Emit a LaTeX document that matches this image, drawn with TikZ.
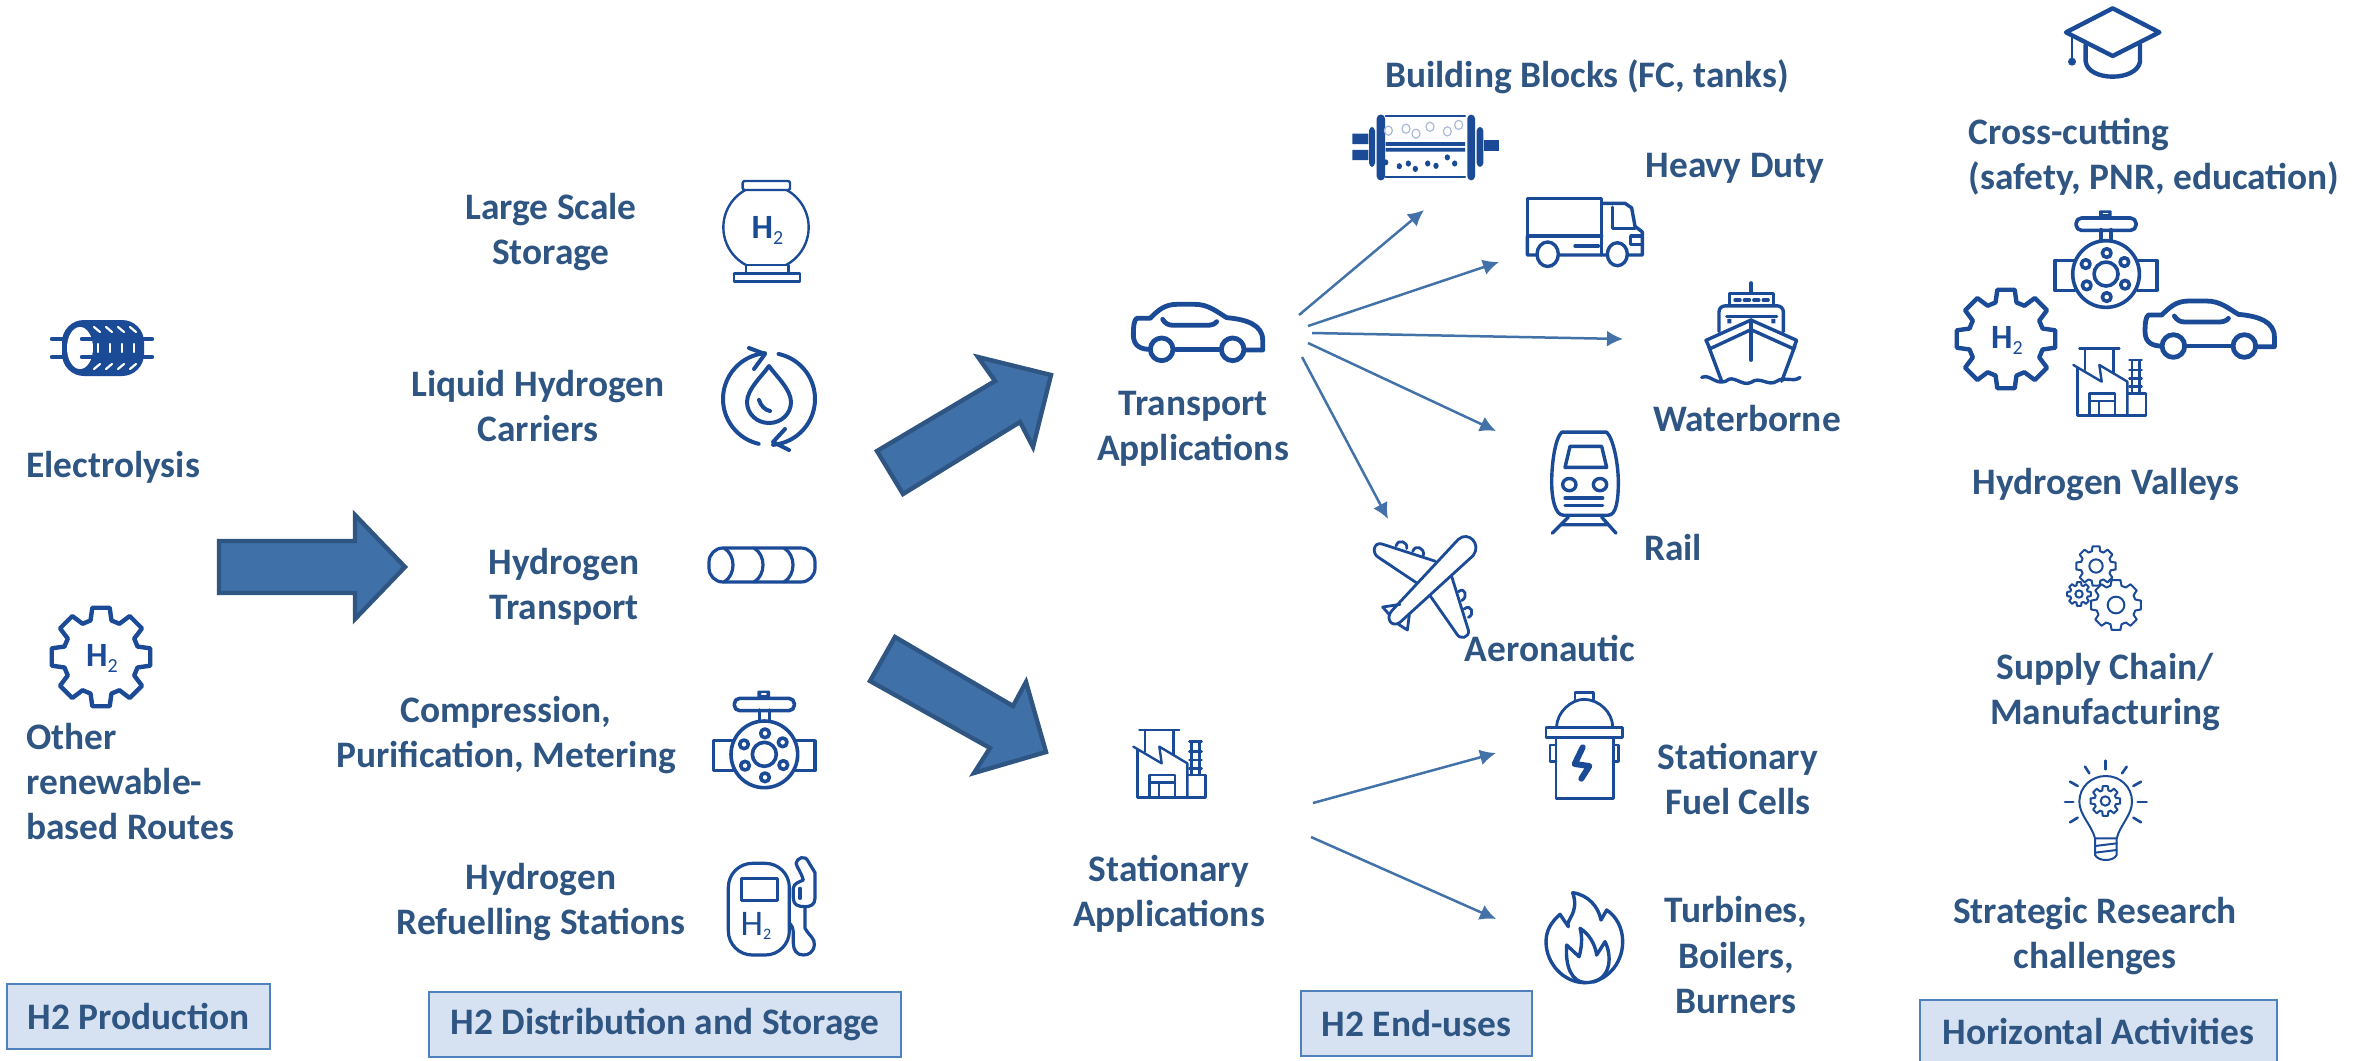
\documentclass[tikz,border=0pt]{standalone}
\usepackage{fontspec}
\setmainfont{Carlito}
\usetikzlibrary{arrows.meta}
\definecolor{iconblue}{HTML}{1B4B96}
\definecolor{txtblue}{HTML}{2F5583}
\definecolor{arrowfill}{HTML}{3F70A8}
\definecolor{arrowline}{HTML}{2F5583}
\definecolor{thinarrow}{HTML}{4272A8}
\definecolor{tagfill}{HTML}{D6E2F1}
\definecolor{tagline}{HTML}{4F81BD}
\definecolor{bubble}{HTML}{A9BAD9}
\newcommand{\htwo}[4]{{\fontsize{#1}{#1}\selectfont #3H}{\raisebox{-#4pt}{\fontsize{#2}{#2}\selectfont 2}}}
\tikzset{
  lbl/.style={font=\bfseries\fontsize{18.7}{22.5}\selectfont,text=txtblue,align=center,inner sep=0pt},
  lbll/.style={lbl,align=left,anchor=west},
  tag/.style={lbl,draw=tagline,fill=tagfill,line width=1pt,inner sep=0pt},
  bigarrow/.style={draw=arrowline,fill=arrowfill,line width=2.2pt,line join=miter},
  thinarr/.style={draw=thinarrow,line width=1.25pt,-{Latex[length=8pt,width=8pt]}},
  iconp/.style={color=iconblue,line width=#1,line join=round,line cap=round},
  iconp/.default=1.7pt,
  zs/.style={scale=0.33333},
  zt/.style={xscale=0.33333,yscale=0.38268},
  pics/hgear/.style={code={
    \draw[line width=2.2pt,line join=round] (-16:38) \foreach \a in {0,45,...,315}{ -- (\a-16:38) -- (\a-10:50) -- (\a+10:50) -- (\a+16:38) } -- cycle;
    \node[inner sep=0pt,text=iconblue] (-txt) at (1,1) {\htwo{17}{10}{\bfseries}{3}};
  }},
  pics/gearwheel/.style n args={3}{code={
    \draw (-16:#2) \foreach \a in {0,45,...,315}{ -- (\a-16:#2) -- (\a-10:#1) -- (\a+10:#1) -- (\a+16:#2) } -- cycle;
    \draw (0,0) circle (#3);
  }},
  pics/valve/.style={code={
    \draw (250,272) -- (190,272) -- (190,362) -- (250,362);
    \draw (437,272) -- (495,272) -- (495,362) -- (437,362);
    \draw (328,213) -- (328,180) (358,213) -- (358,180);
    \draw[rounded corners=2.7pt] (253,145) rectangle (433,182);
    \fill[rounded corners=0.5pt] (322,122) rectangle (360,145);
    \draw[white,line width=0.7pt] (335,132) -- (348,132);
    \draw (343,313) circle (100);
    \draw (343,313) circle (36);
    \foreach \p in {(345,250),(398,277),(400,345),(345,382),(285,347),(282,283)} {\draw \p circle (13);}
  }},
  pics/car/.style={code={
    \draw (150,208) .. controls (125,208) and (100,200) .. (100,165) .. controls (100,140) and (102,120) .. (110,115) -- (150,115) .. controls (175,90) and (195,73) .. (230,73) -- (285,73) .. controls (325,73) and (350,95) .. (380,113) .. controls (440,118) and (488,135) .. (488,180) -- (488,210) -- (438,210);
    \draw (228,208) -- (358,208);
    \draw (185,208) circle (34) (398,208) circle (34);
    \draw (188,118) .. controls (195,130) and (205,136) .. (220,136) -- (320,136) .. controls (335,136) and (345,132) .. (350,125);
  }},
  pics/factory/.style={code={
    \draw (88,120) -- (208,120);
    \draw (105,120) -- (105,185) (190,120) -- (190,195);
    \draw (70,170) -- (155,220) -- (148,170) -- (232,220) -- (232,322);
    \draw (82,178) -- (82,322) -- (287,322) -- (287,255) -- (232,255);
    \draw (118,322) -- (118,255) -- (195,255) -- (195,322) (118,278) -- (195,278) (147,278) -- (147,322);
    \draw (245,155) -- (245,255) (268,155) -- (268,255);
    \foreach \yy in {155,185,210,235} {\draw (238,\yy) -- (275,\yy);}
  }}
}
\begin{document}
\begin{tikzpicture}[x=0.5pt,y=-0.5pt]
\useasboundingbox (0,0) rectangle (2369,1060);

% ---- big arrows
\draw[bigarrow] (219,541) -- (355,541) -- (355,515) -- (405,567) -- (355,619) -- (355,593) -- (219,593) -- cycle;
\draw[bigarrow] (877,451) -- (995,381) -- (978,357) -- (1051,375) -- (1033,447) -- (1020,422) -- (903,494) -- cycle;
\draw[bigarrow] (895,637) -- (1013,706) -- (1026,682) -- (1046,752) -- (974,773) -- (990,748) -- (870,681) -- cycle;

% ---- thin connectors
\coordinate (hubA) at (1299,315); \coordinate (hubB) at (1308,326); \coordinate (hubC) at (1312,333);
\coordinate (hubD) at (1308,343); \coordinate (hubE) at (1302,357); \coordinate (hubF) at (1313,803); \coordinate (hubG) at (1311,837);
\coordinate (toBlocks) at (1424,210); \coordinate (toHeavy) at (1499,262); \coordinate (toWater) at (1623,339);
\coordinate (toRail) at (1496,431); \coordinate (toAero) at (1388,519); \coordinate (toFuel) at (1496,753); \coordinate (toTurb) at (1496,919);
\draw[thinarr] (hubA) -- (toBlocks);
\draw[thinarr] (hubB) -- (toHeavy);
\draw[thinarr] (hubC) -- (toWater);
\draw[thinarr] (hubD) -- (toRail);
\draw[thinarr] (hubE) -- (toAero);
\draw[thinarr] (hubF) -- (toFuel);
\draw[thinarr] (hubG) -- (toTurb);

% ---- text labels
\node[lbll] (electro) at (26,467) {Electrolysis};
\node[lbll] (other) at (26,782) {Other\\renewable-\\based Routes};
\node[lbl] (large) at (551,232) {Large Scale\\Storage};
\node[lbl] (liquid) at (538,406) {Liquid Hydrogen\\Carriers};
\node[lbl] (htrans) at (564,587) {Hydrogen\\Transport};
\node[lbl] (compr) at (506,735) {Compression,\\Purification, Metering};
\node[lbl] (refuel) at (541,902) {Hydrogen\\Refuelling Stations};
\node[lbl] (transp) at (1193,429) {Transport\\Applications};
\node[lbl] (station) at (1169,894) {Stationary\\Applications};
\node[lbl] (blocks) at (1587,77) {Building Blocks (FC, tanks)};
\node[lbl] (heavy) at (1735,168) {Heavy Duty};
\node[lbl] (water) at (1747,419) {Waterborne};
\node[lbl] (rail) at (1673,548) {Rail};
\node[lbl] (aero) at (1550,648) {Aeronautic};
\node[lbl] (sfc) at (1738,779) {Stationary\\Fuel Cells};
\node[lbl] (turb) at (1736,955) {Turbines,\\Boilers,\\Burners};
\node[lbll] (cross) at (1968,157) {Cross-cutting\\(safety, PNR, education)};
\node[lbl] (valley) at (2106,485) {Hydrogen Valleys};
\node[lbl] (supply) at (2105,692) {Supply Chain/\\Manufacturing};
\node[lbl] (strat) at (2095,936) {Strategic Research\\challenges};

% ---- category tags
\node[tag,minimum width=131.5pt,minimum height=32.5pt] (tagA) at (138.5,1016.5) {H2 Production};
\node[tag,minimum width=236pt,minimum height=32.5pt] (tagB) at (665,1024.5) {H2 Distribution and Storage};
\node[tag,minimum width=115.5pt,minimum height=32.5pt] (tagC) at (1416.5,1023.5) {H2 End-uses};
\node[tag,minimum width=178.5pt,minimum height=31pt] (tagD) at (2098.5,1031) {Horizontal Activities};

% ---- electrolysis icon
\begin{scope}[shift={(102,348)},iconp=2.2pt]
  \fill[rounded corners=11pt] (-40,-28) rectangle (42,28);
  \draw (-50,-9) -- (-36,-9) (-50,9) -- (-36,9);
  \draw (40,-9) -- (50,-9) (40,9) -- (50,9);
  \fill[white] (-22,0) ellipse (13 and 21);
  \draw (-20,-9) -- (40,-9) (-20,9) -- (40,9);
  \foreach \xx in {-4,8,20,32} {
    \draw[white,line width=1.1pt] (\xx-4,-21) -- (\xx+2,-16);
    \draw[white,line width=1.1pt] (\xx,-4) -- (\xx,4);
    \draw[white,line width=1.1pt] (\xx+2,16) -- (\xx-4,21);
  }
\end{scope}

% ---- H2 gears
\pic (gearA) at (101,657) [iconp] {hgear};
\pic (gearB) at (2006,339) [iconp] {hgear};

% ---- storage tank
\begin{scope}[shift={(650,150)},scale=0.33333,iconp=1.2pt]
  \draw (348,232) circle (128);
  \draw[fill=white,rounded corners=1pt] (278,93) rectangle (420,120);
  \draw[fill=white] (288,345) rectangle (415,370);
  \draw[fill=white] (252,370) rectangle (450,395);
  \node[inner sep=0pt,text=iconblue] (tankH) at (352,240) {\htwo{17}{10}{\bfseries}{3}};
\end{scope}

% ---- liquid carrier cycle
\begin{scope}[shift={(769,399)},iconp=2pt]
  \draw plot[domain=-95:-257,samples=40] (\x:46);
  \draw plot[domain=-78:85,samples=40] (\x:46);
  \draw (-20,-51) -- (-4,-45) -- (-15,-30);
  \draw (16,30) -- (4,43) -- (20,51);
  \draw (0,-33) .. controls (-6,-24) and (-22,-10) .. (-22,3) .. controls (-22,15) and (-12,24) .. (0,24) .. controls (12,24) and (22,15) .. (22,3) .. controls (22,-10) and (6,-24) .. (0,-33) -- cycle;
  \draw (-10,1) .. controls (-8,7) and (-4,11) .. (1,12);
\end{scope}

% ---- pipe
\begin{scope}[shift={(762,565)},iconp=1.6pt]
  \draw[rounded corners=7pt] (-53,-17) rectangle (53,17);
  \foreach \xx in {-30,0,30} {\draw (\xx-8,-17) .. controls (\xx+4,-10) and (\xx+4,10) .. (\xx-8,17);}
\end{scope}

% ---- valves
\pic (valveA) at (650,650) [zs,iconp=1.8pt] {valve};
\pic (valveB) at (1991.7,169.7) [zs,iconp=1.8pt] {valve};

% ---- fuel pump
\begin{scope}[shift={(650,650)},scale=0.33333,iconp=1.6pt]
  \draw[rounded corners=12pt] (235,640) rectangle (418,915);
  \draw (275,685) rectangle (382,752);
  \node[inner sep=0pt,text=iconblue] (pumpH) at (318,828) {\htwo{18}{8}{}{2}};
  \draw (438,640) .. controls (440,625) and (465,612) .. (475,635) -- (495,668) -- (495,745) .. controls (495,765) and (480,770) .. (465,770) .. controls (445,770) and (430,765) .. (430,745) -- (430,715) .. controls (430,700) and (450,695) .. (460,690) .. controls (455,670) and (440,650) .. (438,640);
  \draw (450,715) -- (450,745);
  \draw (465,770) -- (465,835) .. controls (480,860) and (495,865) .. (493,885) .. controls (490,908) and (475,915) .. (460,915) .. controls (440,915) and (430,900) .. (430,880) -- (430,850) .. controls (430,835) and (425,825) .. (418,820);
\end{scope}

% ---- cars and factories
\pic (carA) at (1100,280) [zs,iconp=2.4pt] {car};
\pic (carB) at (2111.7,276.7) [zs,iconp=2.4pt] {car};
\pic (factA) at (1110,690) [zs,iconp=1.2pt] {factory};
\pic (factB) at (2050,308.3) [zs,iconp=1.2pt] {factory};

% ---- fuel cell stack, truck, ship, train, plane (measured on one grid)
\begin{scope}[shift={(1320,100)},zt,iconp=1.1pt]
  \fill (97,88) rectangle (145,115) (97,130) rectangle (145,157);
  \fill[rounded corners=2pt] (147,70) rectangle (165,175);
  \fill[rounded corners=2pt] (170,38) rectangle (195,210);
  \fill[rounded corners=2pt] (442,38) rectangle (465,210);
  \fill[rounded corners=2pt] (470,70) rectangle (490,175);
  \fill (492,105) rectangle (538,133);
  \draw (197,42) -- (435,42) (197,202) -- (435,202);
  \fill (197,110) rectangle (435,120) (197,125) rectangle (435,135);
  \foreach \p in {(205,80),(258,75),(288,88),(330,70),(382,82),(416,65)} {\draw[bubble,line width=0.6pt] \p circle (12);}
  \foreach \p in {(197,163),(238,173),(265,166),(286,180),(323,166),(348,172),(382,150),(404,166)} {\fill \p circle (8);}
\end{scope}
\begin{scope}[shift={(1320,100)},zt,iconp=1.7pt]
  % truck
  \draw[line join=round] (845,355) -- (622,355) -- (622,258) -- (845,258) -- (845,405);
  \draw (622,355) -- (622,405) -- (650,405) (715,405) -- (858,405) (922,405) -- (967,405) -- (967,345) -- (945,330) -- (935,282) -- (915,270) -- (845,270);
  \draw (683,403) circle (32) (892,403) circle (30);
  \draw (878,280) -- (878,335) -- (945,335);
  \draw (765,382) -- (835,382);
  \draw (967,355) -- (932,355) -- (932,378) -- (967,378);
  % ship
  \draw (1293,478) -- (1293,505);
  \draw (1228,535) -- (1228,505) -- (1360,505) -- (1360,535);
  \draw[rounded corners=3pt] (1197,605) -- (1197,538) -- (1390,538) -- (1390,605);
  \draw (1220,565) -- (1370,565);
  \draw[dash pattern=on 2.5pt off 2.2pt] (1245,523) -- (1345,523);
  \fill (1222,572) rectangle (1234,584) (1354,572) rectangle (1366,584);
  \draw (1158,628) -- (1293,575) -- (1430,628) -- (1420,650) -- (1293,600) -- (1170,650) -- cycle;
  \draw (1293,575) -- (1293,680);
  \draw (1165,642) -- (1205,735) (1425,642) -- (1385,735);
  \draw (1145,725) .. controls (1170,715) and (1185,745) .. (1217,735) .. controls (1240,715) and (1265,750) .. (1293,738) .. controls (1320,720) and (1345,750) .. (1370,735) .. controls (1395,720) and (1415,740) .. (1440,725);
  % train
  \draw (725,868) -- (860,868) .. controls (880,885) and (895,950) .. (895,1000) .. controls (895,1040) and (890,1085) .. (865,1085) -- (730,1085) .. controls (705,1085) and (695,1040) .. (695,1000) .. controls (695,950) and (705,885) .. (725,868) -- cycle;
  \draw (735,960) -- (750,905) -- (845,905) -- (860,960) -- cycle;
  \draw (748,1005) ellipse (20 and 16) (840,1005) ellipse (20 and 16);
  \draw (735,1040) -- (848,1040) (735,1060) -- (848,1060);
  \draw (697,1132) -- (745,1090) (888,1132) -- (845,1090) (725,1110) -- (865,1110);
\end{scope}
\begin{scope}[shift={(1320,100)},zt,iconp=1.4pt]
  % plane
  \draw (215,1335) -- (415,1148) .. controls (445,1125) and (485,1160) .. (460,1190) -- (240,1365) .. controls (215,1380) and (195,1355) .. (215,1335) -- cycle;
  \draw (345,1205) -- (185,1160) .. controls (160,1155) and (155,1185) .. (175,1195) -- (290,1262);
  \draw (395,1245) -- (445,1385) .. controls (450,1405) and (420,1412) .. (410,1395) -- (330,1295);
  \draw (228,1165) .. controls (235,1145) and (265,1155) .. (260,1172);
  \draw (278,1180) .. controls (285,1160) and (315,1170) .. (310,1190);
  \draw (415,1285) .. controls (435,1270) and (445,1300) .. (425,1308);
  \draw (432,1330) .. controls (455,1315) and (465,1345) .. (445,1352);
  \draw (240,1318) -- (188,1325) -- (208,1345);
  \draw (268,1345) -- (262,1385) -- (235,1370);
\end{scope}

% ---- stationary fuel cell and flame
\begin{scope}[shift={(1500,680)},scale=0.33333,iconp=1.4pt]
  \draw (225,58) -- (225,38) -- (280,38) -- (280,58);
  \draw (170,142) .. controls (170,95) and (215,58) .. (252,58) .. controls (295,58) and (338,95) .. (338,142);
  \draw (138,142) rectangle (368,172);
  \draw (168,172) -- (168,355) -- (340,355) -- (340,172);
  \draw (168,195) -- (150,195) -- (150,245) -- (168,245);
  \draw (340,195) -- (355,195) -- (355,245) -- (340,245);
  \draw[line width=3pt] (248,202) -- (224,252) -- (268,258) -- (244,296);
\end{scope}
\begin{scope}[shift={(1500,680)},scale=0.33333,iconp=1.7pt]
  \draw (218,638) .. controls (265,645) and (295,680) .. (303,720) -- (320,690) .. controls (350,710) and (368,745) .. (368,785) .. controls (368,855) and (315,908) .. (255,908) .. controls (190,908) and (138,850) .. (138,785) .. controls (138,750) and (155,725) .. (180,703) -- (205,740) .. controls (195,720) and (240,700) .. (218,638) -- cycle;
  \draw (255,908) .. controls (215,905) and (195,860) .. (200,795) -- (237,830) .. controls (245,805) and (248,770) .. (240,745) .. controls (265,760) and (285,790) .. (290,825) -- (315,785) .. controls (335,825) and (335,890) .. (280,906);
\end{scope}

% ---- graduation cap
\begin{scope}[shift={(1900,0)},scale=0.33333,iconp=2.2pt]
  \draw (638,25) -- (778,97) -- (638,168) -- (498,97) -- cycle;
  \draw (557,135) -- (557,185) .. controls (565,245) and (710,245) .. (720,185) -- (720,135);
  \draw[line width=1.4pt] (516,110) -- (516,185);
  \fill (516,185) circle (12);
\end{scope}

% ---- supply-chain gears
\pic (cogA) at (2096,566) [zs,iconp=1pt] {gearwheel={60}{46}{20}};
\pic (cogB) at (2116,605) [zs,iconp=1pt] {gearwheel={76}{60}{25}};
\pic (cogC) at (2079,594) [zs,iconp=1pt] {gearwheel={36}{27}{11}};

% ---- light bulb
\begin{scope}[shift={(1950,520)},scale=0.33333,iconp=1pt]
  \draw (435,955) .. controls (425,915) and (388,885) .. (388,845) .. controls (388,800) and (425,768) .. (467,768) .. controls (510,768) and (546,800) .. (546,845) .. controls (546,885) and (510,915) .. (500,955) -- cycle;
  \draw (435,955) -- (435,1005) .. controls (445,1025) and (490,1025) .. (500,1005) -- (500,955);
  \draw (435,978) -- (500,970) (435,998) -- (500,990);
  \foreach \rx/\ry/\sx/\sy in {466/722/466/748,405/740/418/760,530/740/516/760,360/785/383/798,573/785/550/798,345/846/370/846,563/846/590/846,360/907/383/893,573/907/550/893} {\draw[line width=1.3pt] (\rx,\ry) -- (\sx,\sy);}
\end{scope}
\pic (cogD) at (2105.3,801) [zs,iconp=1pt] {gearwheel={45}{33}{14}};
\end{tikzpicture}
\end{document}
